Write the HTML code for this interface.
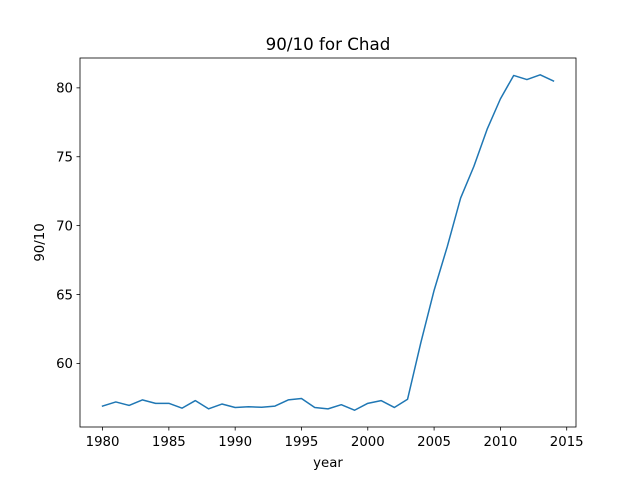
<!DOCTYPE html>
<html><head><meta charset="utf-8"><style>
body{margin:0;background:#fff;font-family:"DejaVu Sans","Liberation Sans",sans-serif;}
svg text{font-family:"DejaVu Sans","Liberation Sans",sans-serif;fill:#000;}
</style></head><body>
<svg id="chart" width="640" height="480">
<rect x="0" y="0" width="640" height="480" fill="#fff"/>
<text x="328" y="50" font-size="16.7" text-anchor="middle">90/10 for Chad</text>
<g id="axes"></g>
</svg>
<script>
const years=[1980,1981,1982,1983,1984,1985,1986,1987,1988,1989,1990,1991,1992,1993,1994,1995,1996,1997,1998,1999,2000,2001,2002,2003,2004,2005,2006,2007,2008,2009,2010,2011,2012,2013,2014];
const values=[56.9,57.2,56.95,57.35,57.1,57.1,56.75,57.3,56.7,57.05,56.8,56.85,56.82,56.9,57.35,57.45,56.8,56.7,57.0,56.6,57.1,57.3,56.8,57.4,61.5,65.3,68.5,72.0,74.3,77.0,79.2,80.9,80.6,80.95,80.5];
const xTicks=[1980,1985,1990,1995,2000,2005,2010,2015];
const yTicks=[60,65,70,75,80];
const L=80,R=576,T=58,B=427;
const xmin0=Math.min(...years),xmax0=Math.max(...years),xm=(xmax0-xmin0)*0.05;
const ymin0=Math.min(...values),ymax0=Math.max(...values),ym=(ymax0-ymin0)*0.05;
const x=v=>L+(v-(xmin0-xm))/((xmax0+xm)-(xmin0-xm))*(R-L);
const y=v=>B-(v-(ymin0-ym))/((ymax0+ym)-(ymin0-ym))*(B-T);
const NS="http://www.w3.org/2000/svg";
const g=document.getElementById('axes');
function mk(t,a,txt){const e=document.createElementNS(NS,t);for(const k in a)e.setAttribute(k,a[k]);if(txt!==undefined)e.textContent=txt;g.appendChild(e);return e;}
const d=years.map((yr,i)=>(i?'L':'M')+x(yr).toFixed(2)+','+y(values[i]).toFixed(2)).join('');
const line=mk('path',{d:d,fill:'none',stroke:'#1f77b4','stroke-width':1.5,'stroke-linejoin':'round','stroke-linecap':'square'});


const frame=mk('rect',{x:L,y:T,width:R-L,height:B-T,fill:'none',stroke:'#000','stroke-width':0.8});


xTicks.forEach(t=>{const px=x(t);mk('line',{x1:px,x2:px,y1:B,y2:B+3.5,stroke:'#000','stroke-width':0.8});
const tx=mk('text',{x:px,y:B+19,'font-size':13.3,'text-anchor':'middle'},t);

});
yTicks.forEach(t=>{const py=y(t);mk('line',{x1:L-3.5,x2:L,y1:py,y2:py,stroke:'#000','stroke-width':0.8});
const tx=mk('text',{x:L-7,y:py+4.8,'font-size':13.3,'text-anchor':'end'},t);

});
const xl=mk('text',{x:(L+R)/2,y:467,'font-size':13.3,'text-anchor':'middle'},'year');


const yl=mk('text',{x:0,y:0,'font-size':13.3,'text-anchor':'middle',transform:`translate(44,${(T+B)/2}) rotate(-90)`},'90/10');


</script>
</body></html>
